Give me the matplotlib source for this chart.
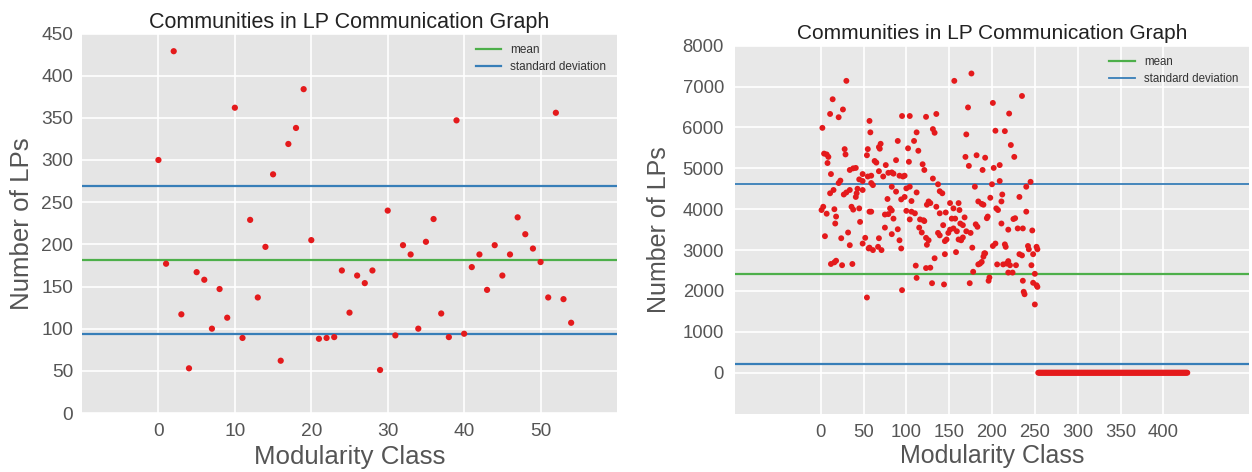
import matplotlib
matplotlib.use("Agg")
import matplotlib.pyplot as plt

plt.rcParams['font.family'] = ['Liberation Sans', 'DejaVu Sans']

# ---------------- data: left chart ----------------
left_classes = list(range(55))
left_counts = [300, 177, 429, 117, 53, 167, 158, 100, 147, 113,
               362, 89, 229, 137, 197, 283, 62, 319, 338, 384,
               205, 88, 89, 90, 169, 119, 163, 154, 169, 51,
               240, 92, 199, 188, 100, 203, 230, 118, 90, 347,
               94, 173, 188, 146, 199, 163, 188, 232, 212, 195,
               179, 137, 356, 135, 107]
left_mean = 181.5
left_std = 88.0

# ---------------- data: right chart ----------------
right_classes = [
    30, 14, 26, 11, 21, 2, 57, 58, 4, 7, 9, 28, 29, 8, 54, 55, 38, 41, 34, 12,
    49, 45, 49, 23, 21, 55, 59, 15, 11, 34, 30, 27, 43, 42, 41, 49, 3, 1, 7, 16,
    36, 38, 45, 57, 18, 17, 46, 5, 24, 32, 52, 34, 49, 56, 12, 16, 18, 25, 37, 54,
    95, 104, 112, 90, 109, 70, 69, 68, 102, 114, 63, 65, 76, 88, 103, 119, 121, 68, 79, 83,
    85, 92, 96, 98, 59, 73, 61, 83, 88, 100, 104, 112, 78, 94, 98, 106, 59, 81, 83, 75,
    79, 100, 106, 110, 85, 104, 116, 120, 75, 90, 115, 118, 83, 68, 92, 123, 57, 61, 67, 71,
    94, 111, 112, 95, 123,
    176, 156, 172, 123, 135, 131, 133, 170, 169, 182, 192, 173, 189, 131, 137, 180, 139, 142, 126, 128,
    124, 135, 151, 161, 184, 188, 155, 162, 139, 146, 121, 168, 153, 157, 143, 163, 166, 181, 183, 151,
    149, 159, 155, 137, 139, 170, 175, 166, 147, 145, 126, 124, 161, 164, 177, 133, 145, 158, 191, 128,
    184, 188, 178, 130, 144, 174,
    235, 201, 220, 204, 215, 222, 226, 202, 209, 209, 200, 245, 240, 212, 211, 198, 232, 190, 205, 207,
    240, 195, 194, 225, 227, 211, 219, 230, 236, 247, 204, 201, 215, 216, 242, 243, 252, 253, 192, 190,
    232, 235, 248, 186, 206, 213, 217, 219, 221, 228, 246, 219, 224, 250, 197, 196, 236, 248, 252, 253,
    237, 238, 250]
right_counts = [
    7140, 6690, 6440, 6330, 6250, 5990, 6160, 5880, 5360, 5340, 5280, 5470, 5340, 5130, 5320, 5470, 5000, 5010, 4960, 4860,
    4860, 4730, 4690, 4700, 4640, 4800, 4640, 4470, 4390, 4470, 4410, 4360, 4500, 4390, 4300, 4470, 4060, 3980, 3890, 4000,
    4060, 3990, 4020, 3940, 3820, 3650, 3690, 3340, 3290, 3430, 3300, 3120, 3160, 3040, 2660, 2700, 2740, 2630, 2660, 1840,
    6280, 6280, 5880, 5670, 5670, 5600, 5480, 5520, 5490, 5430, 5180, 5140, 5080, 5200, 5160, 5100, 4960, 4930, 4890, 4900,
    4870, 4820, 4800, 4820, 4820, 4800, 4590, 4550, 4430, 4510, 4550, 4410, 4250, 4240, 4300, 4200, 3940, 4020, 3970, 3870,
    3880, 3960, 3940, 3900, 3770, 3750, 3750, 3730, 3550, 3510, 3550, 3430, 3390, 3290, 3240, 3300, 3060, 3000, 3080, 3000,
    3040, 2620, 2320, 2020, 2560,
    7320, 7140, 6490, 6260, 6330, 5960, 5870, 5830, 5280, 5320, 5260, 5060, 4960, 4750, 4610, 4550, 4440, 4390, 4190, 4150,
    4110, 4060, 4150, 4150, 4190, 4130, 4020, 3980, 3900, 3920, 3710, 3800, 3770, 3770, 3610, 3650, 3610, 3630, 3570, 3500,
    3420, 3460, 3530, 3420, 3360, 3460, 3420, 3310, 3260, 3220, 3240, 3130, 3260, 3240, 3060, 2800, 2900, 2950, 2920, 2570,
    2650, 2710, 2470, 2190, 2160, 2190,
    6770, 6600, 6340, 5920, 5910, 5570, 5280, 5010, 5080, 4690, 4610, 4670, 4550, 4360, 4190, 4280, 4300, 4110, 4020, 3980,
    3940, 3820, 3780, 3760, 3780, 3650, 3500, 3530, 3530, 3480, 3160, 3100, 3140, 3080, 3100, 3020, 3080, 3020, 2920, 2840,
    2900, 2870, 2900, 2670, 2650, 2650, 2670, 2730, 2630, 2630, 2630, 2450, 2450, 2420, 2330, 2250, 2250, 2200, 2140, 2100,
    1980, 1920, 1670]
empty_classes = list(range(254, 429))
empty_counts = [0] * len(empty_classes)
right_mean = 2420.0
right_std = 2205.0

left_xticks = [0, 10, 20, 30, 40, 50]
left_yticks = [0, 50, 100, 150, 200, 250, 300, 350, 400, 450]
right_xticks = [0, 50, 100, 150, 200, 250, 300, 350, 400]
right_yticks = [0, 1000, 2000, 3000, 4000, 5000, 6000, 7000, 8000]

RED = '#e41a1c'
GREEN = '#4daf4a'
BLUE = '#377eb8'

W, H = 1252, 472
fig = plt.figure(figsize=(W / 100, H / 100), dpi=100)


def px_axes(left, top, right, bottom):
    return fig.add_axes([left / W, 1 - bottom / H, (right - left) / W, (bottom - top) / H])


def style(ax, bg, tickcolor, tickpad_x, tickpad_y):
    ax.set_facecolor(bg)
    for s in ax.spines.values():
        s.set_visible(False)
    ax.grid(True, color='white', linewidth=1.2)
    ax.set_axisbelow(True)
    ax.tick_params(axis='both', length=0, labelsize=13.8, colors=tickcolor)
    ax.tick_params(axis='x', pad=tickpad_x)
    ax.tick_params(axis='y', pad=tickpad_y)


# ---------------- left chart ----------------
ax1 = px_axes(82, 33.5, 617, 413)
style(ax1, '#e5e5e5', '#555555', 7.5, 6.5)
ax1.scatter(left_classes, left_counts, s=20, color=RED, edgecolors='none', zorder=3)
ax1.axhline(left_mean, color=GREEN, linewidth=1.6, label='mean', zorder=2)
ax1.axhline(left_mean + left_std, color=BLUE, linewidth=1.6, label='standard deviation', zorder=2)
ax1.axhline(left_mean - left_std, color=BLUE, linewidth=1.6, zorder=2)
ax1.set_xlim(-10, 60)
ax1.set_ylim(0, 450)
ax1.set_xticks(left_xticks)
ax1.set_yticks(left_yticks)
ax1.set_title('Communities in LP Communication Graph', fontsize=15.5, color='#222222', pad=4)
ax1.set_xlabel('Modularity Class', fontsize=18.6, color='#555555', labelpad=3)
ax1.set_ylabel('Number of LPs', fontsize=18.6, color='#555555', labelpad=5)
leg1 = ax1.legend(loc='upper right', frameon=False, fontsize=8.5, handlelength=2.1,
                  labelspacing=0.45)
for t in leg1.get_texts():
    t.set_color('#333333')

# ---------------- right chart ----------------
ax2 = px_axes(735, 45.7, 1249, 413.6)
style(ax2, '#e8e8e8', '#555555', 7.5, 8)
ax2.scatter(right_classes, right_counts, s=18, color=RED, edgecolors='none', zorder=3)
ax2.scatter(empty_classes, empty_counts, s=18, color=RED, edgecolors='none', zorder=3)
ax2.axhline(right_mean, color=GREEN, linewidth=1.6, label='mean', zorder=2)
ax2.axhline(right_mean + right_std, color=BLUE, linewidth=1.3, label='standard deviation', zorder=2)
ax2.axhline(right_mean - right_std, color=BLUE, linewidth=1.6, zorder=2)
ax2.set_xlim(-100, 500)
ax2.set_ylim(-1000, 8000)
ax2.set_xticks(right_xticks)
ax2.set_yticks(right_yticks)
ax2.tick_params(axis='both', labelsize=13.3)
ax2.set_title('Communities in LP Communication Graph', fontsize=15, color='#222222', pad=5)
ax2.set_xlabel('Modularity Class', fontsize=18, color='#555555', labelpad=2)
ax2.set_ylabel('Number of LPs', fontsize=18, color='#555555', labelpad=8)
leg2 = ax2.legend(loc='upper right', frameon=False, fontsize=8.3, handlelength=2.3,
                  labelspacing=0.45)
for t in leg2.get_texts():
    t.set_color('#333333')

fig.savefig('out.png', dpi=100, facecolor='white')
